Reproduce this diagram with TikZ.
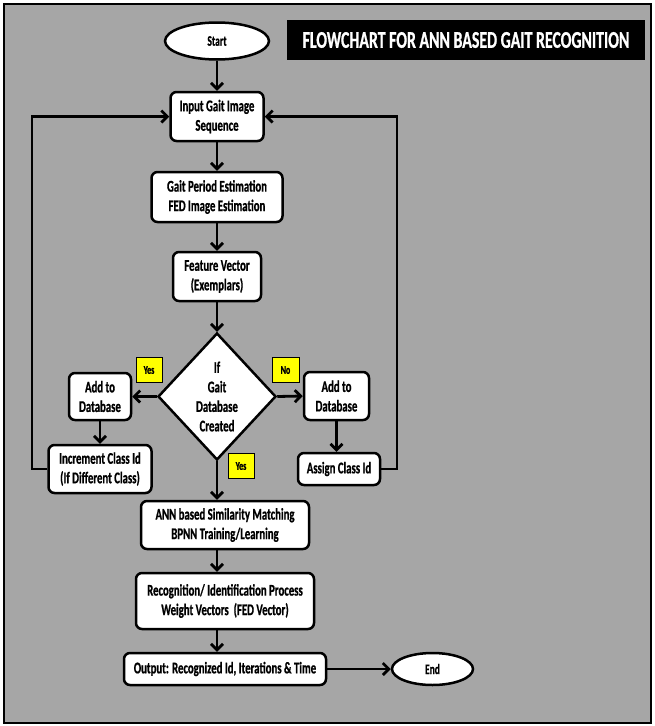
\documentclass[tikz,border=0pt]{standalone}
\usepackage{fontspec}
\setmainfont{Carlito}[FakeStretch=0.66, FakeBold=0.8]
\usetikzlibrary{shapes.geometric,arrows.meta}
\definecolor{panel}{HTML}{A6A6A6}
\definecolor{flag}{HTML}{FFFF00}
\begin{document}
\begin{tikzpicture}[x=1pt,y=-1pt,
  every node/.style={font=\bfseries\fontsize{16.3}{19.5}\selectfont, align=center, inner sep=0pt},
  box/.style={draw=black, line width=2.5pt, fill=white, rounded corners=6pt},
  term/.style={ellipse, draw=black, line width=2.5pt, fill=white,
               font=\bfseries\fontsize{14.5}{16}\selectfont},
  decide/.style={diamond, draw=black, line width=2.5pt, fill=white},
  flagbox/.style={draw=black, line width=0.8pt, fill=flag,
                  font=\bfseries\fontsize{12}{13}\selectfont},
  flow/.style={line width=2.8pt, -{Straight Barb[length=6pt,width=12pt]}}
]
% page and framed panel
\useasboundingbox (0,0) rectangle (654,726);
\fill[white] (0,0) rectangle (654,726);
\draw[fill=panel, line width=2.5pt] (4,4) rectangle (651,723);

% title banner
\node[fill=black, minimum width=358pt, minimum height=40pt, text=white,
      font=\bfseries\fontsize{24}{26}\selectfont] (title) at (466,40)
      {FLOWCHART FOR ANN BASED GAIT RECOGNITION};

% main column
\node[term, minimum width=104pt, minimum height=37pt] (start) at (217,41) {Start};
\node[box, minimum width=93pt, minimum height=49pt] (input) at (217,116.5) {Input Gait Image\\Sequence};
\node[box, minimum width=131pt, minimum height=50pt] (gpe) at (217,197) {Gait Period Estimation\\FED Image Estimation};
\node[box, minimum width=88pt, minimum height=49pt] (fv) at (217,276.5) {Feature Vector\\(Exemplars)};
\node[decide, minimum width=118pt, minimum height=127pt] (dia) at (217,396.5) {If\\Gait\\Database\\Created};

% side branches
\node[box, minimum width=62pt, minimum height=47pt] (addL) at (100,396.5) {Add to\\Database};
\node[box, minimum width=103pt, minimum height=48pt] (inc) at (100,469) {Increment Class Id\\(If Different Class)};
\node[box, minimum width=65pt, minimum height=48pt] (addR) at (336.5,396) {Add to\\Database};
\node[box, minimum width=82pt, minimum height=32pt] (assign) at (339,469) {Assign Class Id};

% lower column
\node[box, minimum width=168pt, minimum height=48pt] (ann) at (225,525) {ANN based Similarity Matching\\BPNN Training/Learning};
\node[box, minimum width=178pt, minimum height=56pt] (rec) at (225,601) {Recognition/ Identification Process\\Weight Vectors\ \ (FED Vector)};
\node[box, minimum width=202pt, minimum height=32pt] (out) at (225,669) {Output: Recognized Id, Iterations \& Time};
\node[term, minimum width=81pt, minimum height=32pt] (end) at (432.5,669) {End};

% decision labels
\node[flagbox, minimum width=26pt, minimum height=25pt] (yesL) at (149,370) {Yes};
\node[flagbox, minimum width=27pt, minimum height=25pt] (noR) at (285.5,370) {No};
\node[flagbox, minimum width=26pt, minimum height=25pt] (yesB) at (241,466) {Yes};

% rails for the feedback loops
\coordinate (lrail) at (32,0);
\coordinate (rrail) at (397,0);

% connectors
\draw[flow] (start) -- (input);
\draw[flow] (input) -- (gpe);
\draw[flow] (gpe) -- (fv);
\draw[flow] (fv) -- (dia);
\draw[flow] (dia.west) -- (addL.east);
\draw[flow] (dia.east) -- (addR.east -| addR.west);
\draw[flow] (addL) -- (inc);
\draw[flow] (addR.south) -- (addR.south |- assign.north);
\draw[flow] (dia.south) -- (dia.south |- ann.north);
\draw[flow] (ann.south -| dia.south) -- (rec.north -| dia.south);
\draw[flow] (rec.south -| dia.south) -- (out.north -| dia.south);
\draw[flow] (out.east) -- (end.west);
\draw[flow] (inc.west) -| (lrail |- input.west) -- (input.west);
\draw[flow] (assign.east) -| (rrail |- input.east) -- (input.east);
\end{tikzpicture}
\end{document}
